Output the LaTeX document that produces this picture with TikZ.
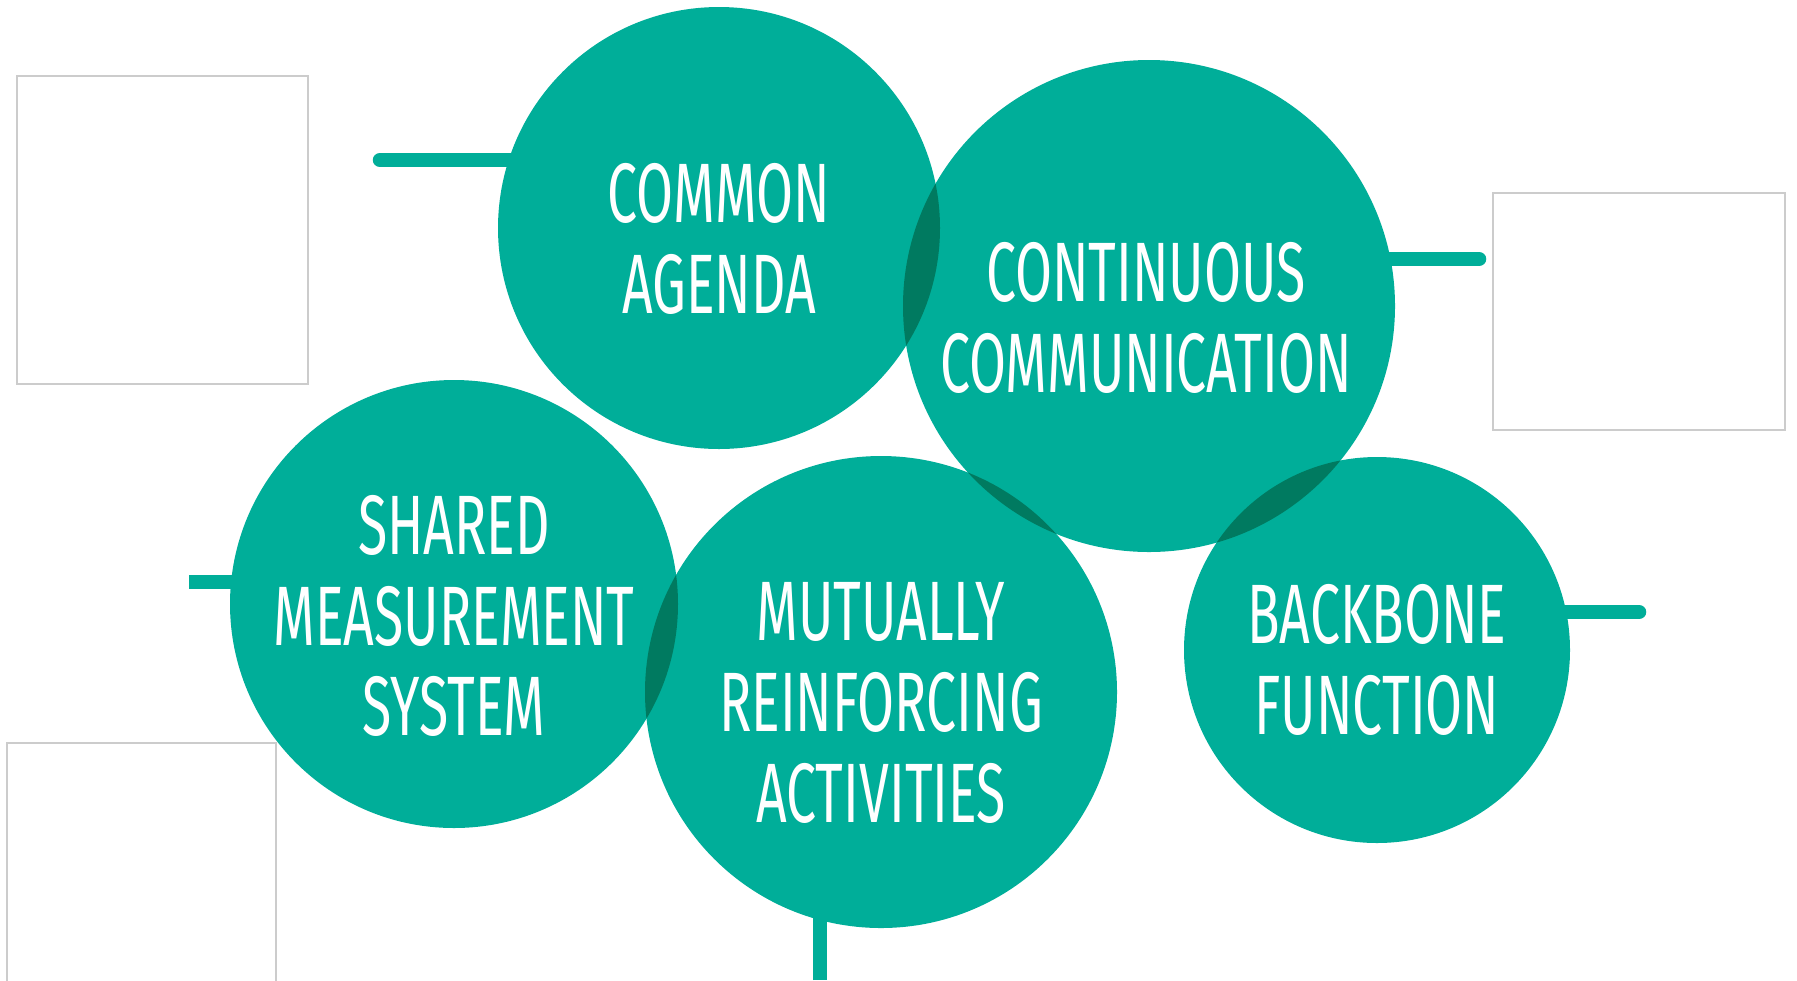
\documentclass[tikz,border=0pt]{standalone}
\usepackage{fontspec}
\setmainfont{Fira Sans}[FakeStretch=0.635]
\usetikzlibrary{backgrounds}

\definecolor{circlegreen}{RGB}{0,174,153}
\definecolor{lensgreen}{RGB}{0,122,96}
\definecolor{framegray}{RGB}{204,204,204}

\begin{document}
\begin{tikzpicture}[x=0.1mm, y=-0.1mm,
    pillar/.style={circle, fill=circlegreen, inner sep=0pt},
    caption/.style={align=center, text=white, inner sep=0pt,
      font=\fontsize{24}{25.8}\selectfont},
    stem/.style={draw=circlegreen, line width=1.45mm, line cap=round},
    frame/.style={draw=framegray, line width=0.4pt, inner sep=0pt}]
  \useasboundingbox (0,0) rectangle (1797,980);

  % empty frames
  \node[frame, minimum width=29.1mm, minimum height=30.8mm] (frame-a) at (162.5,230) {};
  \node[frame, minimum width=29.2mm, minimum height=23.7mm] (frame-b) at (1639,311.5) {};
  \node[frame, minimum width=26.9mm, minimum height=24.4mm] (frame-c) at (141.5,865) {};

  % the five conditions
  \node[pillar, minimum size=44.2mm] (ca) at (719,228) {};
  \node[pillar, minimum size=49.2mm] (cc) at (1149,306) {};
  \node[pillar, minimum size=44.8mm] (sm) at (454,604) {};
  \node[pillar, minimum size=47.2mm] (mr) at (881,692) {};
  \node[pillar, minimum size=38.6mm] (bb) at (1377,650) {};

  % darker where two circles meet
  \begin{scope}
    \clip (ca.center) circle [radius=22.1mm];
    \fill[lensgreen] (cc.center) circle [radius=24.6mm];
  \end{scope}
  \begin{scope}
    \clip (cc.center) circle [radius=24.6mm];
    \fill[lensgreen] (mr.center) circle [radius=23.6mm];
    \fill[lensgreen] (bb.center) circle [radius=19.3mm];
  \end{scope}
  \begin{scope}
    \clip (sm.center) circle [radius=22.4mm];
    \fill[lensgreen] (mr.center) circle [radius=23.6mm];
  \end{scope}

  \node[caption] (ca-text) at ([yshift=-1.1mm]ca.center) {COMMON\\AGENDA};
  \node[caption] (cc-text) at ([xshift=-0.3mm, yshift=-1.2mm]cc.center) {CONTINUOUS\\COMMUNICATION};
  \node[caption] (sm-text) at ([yshift=-1.2mm]sm.center) {SHARED\\MEASUREMENT\\SYSTEM};
  \node[caption] (mr-text) at ([yshift=-1.1mm]mr.center) {MUTUALLY\\REINFORCING\\ACTIVITIES};
  \node[caption] (bb-text) at ([yshift=-1.0mm]bb.center) {BACKBONE\\FUNCTION};

  % stems behind the circles
  \coordinate (ca-tip) at (380,160);
  \coordinate (cc-tip) at (1479,259);
  \coordinate (sm-tip) at (189,582);
  \coordinate (mr-tip) at (820,980);
  \coordinate (bb-tip) at (1639,612);
  \begin{scope}[on background layer]
    \draw[stem] (ca-tip) -- (ca-tip -| ca.center);
    \draw[stem] (cc-tip) -- (cc-tip -| cc.center);
    \draw[stem, line cap=butt] (sm-tip) -- (sm-tip -| sm.center);
    \draw[stem, line cap=butt] (mr-tip) -- (mr-tip |- mr.center);
    \draw[stem] (bb-tip) -- (bb-tip -| bb.center);
  \end{scope}
\end{tikzpicture}
\end{document}
